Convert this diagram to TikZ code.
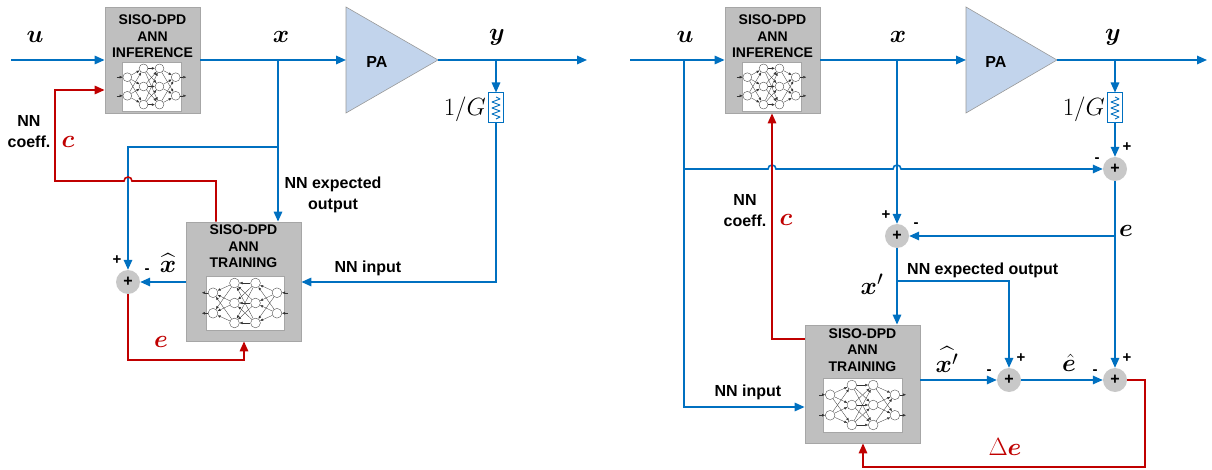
\documentclass[tikz,border=0pt]{standalone}
\usepackage{amsmath}
\usepackage{bm}
\usepackage{fontspec}
\setmainfont{Liberation Sans}
\usetikzlibrary{arrows.meta}

\definecolor{dblue}{HTML}{0070C0}
\definecolor{dred}{HTML}{C00000}
\definecolor{boxgray}{HTML}{BFBFBF}
\definecolor{boxedge}{HTML}{A6A6A6}
\definecolor{pafill}{HTML}{C2D4EC}
\definecolor{sumgray}{HTML}{C8C8C8}

\tikzset{
  tip/.style={-{Triangle[length=10pt,width=8.5pt]}},
  wire/.style={draw=dblue, line width=1.6pt},
  fb/.style={draw=dred, line width=1.6pt},
  block/.style={draw=boxedge, fill=boxgray, line width=0.8pt, inner sep=0pt},
  boxtext/.style={font=\fontsize{14}{16.5}\selectfont\bfseries, align=center, inner sep=0pt},
  lbl/.style={font=\fontsize{16}{21}\selectfont\bfseries, align=center, inner sep=0pt},
  sgn/.style={font=\fontsize{15}{18}\selectfont\bfseries, inner sep=0pt},
  mlbl/.style={font=\fontsize{24.88}{28}\selectfont, inner sep=0pt},
  sumnode/.style={circle, fill=sumgray, minimum size=24pt, inner sep=0pt,
    font=\fontsize{16}{18}\selectfont\bfseries},
  pashape/.style={draw=gray!80, fill=pafill, line width=0.6pt},
  resbox/.style={draw=dblue, fill=white, line width=1pt, minimum width=15pt,
    minimum height=30pt, inner sep=0pt},
  neuron/.style={circle, draw=black!75, fill=white, inner sep=0pt,
    minimum size=#1, line width=0.35pt},
  nnframe/.style={draw=black!35, fill=white, line width=0.5pt},
  fwd/.style={draw=black!80, line width=0.3pt, -{Latex[length=3pt,width=2.6pt]}},
  bwd/.style={draw=black!80, line width=0.3pt, {Latex[length=3pt,width=2.6pt]}-},
}

% small 2-3-3-2 network sketch: x0, y0 (top left), width, height, edge style
\newcommand{\nnpic}[5]{%
  \begin{scope}[shift={(#1,#2)}]
    \draw[nnframe] (0,0) rectangle (#3,#4);
    \foreach \i/\fy in {1/0.31,2/0.69}{
      \node[neuron={0.18*#4 pt}] (nA\i) at ({0.09*#3},{\fy*#4}) {};
      \node[neuron={0.18*#4 pt}] (nD\i) at ({0.91*#3},{\fy*#4}) {};
    }
    \foreach \i/\fy in {1/0.13,2/0.5,3/0.87}{
      \node[neuron={0.18*#4 pt}] (nB\i) at ({0.365*#3},{\fy*#4}) {};
      \node[neuron={0.18*#4 pt}] (nC\i) at ({0.635*#3},{\fy*#4}) {};
    }
    \foreach \a in {1,2}{
      \draw[#5] ([xshift=-6pt]nA\a.west) -- (nA\a);
      \draw[#5] (nD\a) -- ([xshift=6pt]nD\a.east);
      \foreach \b in {1,2,3}{
        \draw[#5] (nA\a) -- (nB\b);
        \draw[#5] (nC\b) -- (nD\a);
      }
    }
    \foreach \a in {1,2,3}{
      \foreach \b in {1,2,3}{
        \draw[#5] (nB\a) -- (nC\b);
      }
    }
  \end{scope}}

% zigzag symbol inside the 1/G attenuator box
\newcommand{\zigzag}[1]{%
  \draw[dblue, line width=0.9pt, line join=round] (#1) ++(0,-11) -- ++(4,2) -- ++(-8,3)
    -- ++(8,3) -- ++(-8,3) -- ++(8,3) -- ++(-8,3) -- ++(8,3) -- ++(-4,2);}

\begin{document}
\begin{tikzpicture}[x=1pt,y=-1pt]
\useasboundingbox (0,0) rectangle (1212,470);

%% ================= left: direct learning =================
\node[block, minimum width=95pt, minimum height=106pt] (inf1) at (152.5,60) {};
\node[boxtext] (inf1t) at (152.5,36.5) {SISO-DPD\\ANN\\INFERENCE};
\nnpic{122}{62}{59}{49}{fwd}

\node[block, minimum width=115pt, minimum height=119pt] (tr1) at (243.5,281.5) {};
\node[boxtext] (tr1t) at (243.5,246.5) {SISO-DPD\\ANN\\TRAINING};
\nnpic{206}{276}{78}{54}{bwd}

\draw[pashape] (346,7) -- (438,60) -- (346,113) -- cycle;
\coordinate (pa1in) at (346,60);
\coordinate (pa1out) at (438,60);
\node[lbl] (pa1t) at (377,62) {PA};

\node[resbox] (res1) at (496,108) {};
\zigzag{res1.center}
\node[sumnode] (sum1) at (128,282) {+};

\coordinate (uin1) at (11,60);
\coordinate (j1) at (278,60);
\coordinate (b1) at (278,147);
\coordinate (jy1) at (496,60);
\coordinate (yout1) at (587,60);
\coordinate (nin1) at (496,282);
\coordinate (r1) at (216,181);
\coordinate (r2) at (55,90);
\coordinate (e1) at (128,360);
\coordinate (e2) at (244,360);

\draw[wire, tip] (uin1) -- (inf1.west);
\draw[wire, tip] (inf1.east) -- (pa1in);
\draw[wire, tip] (pa1out) -- (yout1);
\draw[wire, tip] (j1) -- (j1 |- tr1.north);
\draw[wire, tip] (b1) -- (b1 -| sum1) -- (sum1);
\draw[wire, tip] (jy1) -- (res1.north);
\draw[wire, tip] (res1.south) -- (nin1) -- (nin1 -| tr1.east);
\draw[wire, tip] (sum1 -| tr1.west) -- (sum1);
\draw[fb, tip] (r1 |- tr1.north) -- (r1) -- (132,181)
  arc[start angle=0, end angle=180, radius=4pt] -- (55,181) -- (r2) -- (r2 -| inf1.west);
\draw[fb, tip] (sum1) -- (e1) -- (e2) -- (e2 |- tr1.south);

\node[mlbl] (u1) at (35,37) {$\bm{u}$};
\node[mlbl] (x1) at (281,37) {$\bm{x}$};
\node[mlbl] (y1) at (497,37) {$\bm{y}$};
\node[mlbl, anchor=east] (g1) at (486,109) {$1/G$};
\node[lbl] (coef1) at (29,132) {NN\\coeff.};
\node[mlbl, text=dred] (c1) at (68,142) {$\bm{c}$};
\node[lbl] (exp1) at (333,195) {NN expected\\output};
\node[lbl] (nni1) at (368,268) {NN input};
\node[mlbl] (xh1) at (168,263) {$\widehat{\bm{x}}$};
\node[sgn] (m1) at (147,271) {-};
\node[sgn] (p1) at (117,260) {+};
\node[mlbl, text=dred] (el1) at (161,342) {$\bm{e}$};

%% ================= right: indirect learning =================
\node[block, minimum width=95pt, minimum height=106pt] (inf2) at (772.5,60) {};
\node[boxtext] (inf2t) at (772.5,36.5) {SISO-DPD\\ANN\\INFERENCE};
\nnpic{742}{62}{59}{49}{fwd}

\node[block, minimum width=115pt, minimum height=118pt] (tr2) at (862.5,384) {};
\node[boxtext] (tr2t) at (862.5,350) {SISO-DPD\\ANN\\TRAINING};
\nnpic{823}{378}{79}{54}{fwd}

\draw[pashape] (966,7) -- (1057,60) -- (966,113) -- cycle;
\coordinate (pa2in) at (966,60);
\coordinate (pa2out) at (1057,60);
\node[lbl] (pa2t) at (996,62) {PA};

\node[resbox] (res2) at (1115,108) {};
\zigzag{res2.center}

\node[sumnode] (sumA) at (1115,169) {+};
\node[sumnode] (sumB) at (897,236) {+};
\node[sumnode] (sumC) at (1009,380) {+};
\node[sumnode] (sumD) at (1115,380) {+};

\coordinate (uin2) at (630,60);
\coordinate (j2u) at (684,60);
\coordinate (h2) at (684,169);
\coordinate (n2) at (684,407);
\coordinate (j2x) at (897,60);
\coordinate (jy2) at (1115,60);
\coordinate (yout2) at (1207,60);
\coordinate (eb) at (1115,236);
\coordinate (xb) at (897,281);
\coordinate (xc) at (1009,281);
\coordinate (rc) at (772,339);
\coordinate (d1) at (1145,380);
\coordinate (d2) at (1145,467);
\coordinate (d3) at (863,467);

\draw[wire, tip] (uin2) -- (inf2.west);
\draw[wire, tip] (inf2.east) -- (pa2in);
\draw[wire, tip] (pa2out) -- (yout2);
\draw[wire, tip] (j2u) -- (n2) -- (n2 -| tr2.west);
\draw[wire, tip] (h2) -- (768,169) arc[start angle=180, end angle=0, radius=4pt]
  -- (893,169) arc[start angle=180, end angle=0, radius=4pt] -- (sumA);
\draw[wire, tip] (jy2) -- (res2.north);
\draw[wire, tip] (res2.south) -- (sumA);
\draw[wire, tip] (j2x) -- (sumB);
\draw[wire, tip] (sumA) -- (eb) -- (sumB);
\draw[wire, tip] (eb) -- (sumD);
\draw[wire, tip] (sumB) -- (sumB |- tr2.north);
\draw[wire, tip] (xb) -- (xc) -- (sumC);
\draw[wire, tip] (sumC -| tr2.east) -- (sumC);
\draw[wire, tip] (sumC) -- (sumD);
\draw[fb, tip] (sumD) -- (d1) -- (d2) -- (d3) -- (d3 |- tr2.south);
\draw[fb, tip] (rc -| tr2.west) -- (rc) -- (rc |- inf2.south);

\node[mlbl] (u2) at (685,37) {$\bm{u}$};
\node[mlbl] (x2) at (898,37) {$\bm{x}$};
\node[mlbl] (y2) at (1113,37) {$\bm{y}$};
\node[mlbl, anchor=east] (g2) at (1105,109) {$1/G$};
\node[sgn] (pA) at (1127,147) {+};
\node[sgn] (mA) at (1097,160) {-};
\node[mlbl] (eA) at (1126,231) {$\bm{e}$};
\node[sgn] (pB) at (886,215) {+};
\node[sgn] (mB) at (916,225) {-};
\node[mlbl] (xp2) at (872,284) {$\bm{x}'$};
\node[lbl, anchor=west] (exp2) at (907,270) {NN expected output};
\node[lbl] (coef2) at (745,211) {NN\\coeff.};
\node[mlbl, text=dred] (c2) at (786,220) {$\bm{c}$};
\node[lbl] (nni2) at (748,392) {NN input};
\node[mlbl] (xh2) at (947,360) {$\widehat{\bm{x}'}$};
\node[sgn] (mC) at (989,372) {-};
\node[sgn] (pC) at (1021,358) {+};
\node[mlbl] (eh2) at (1069,363) {$\hat{\bm{e}}$};
\node[sgn] (mD) at (1095,372) {-};
\node[sgn] (pD) at (1127,358) {+};
\node[mlbl, text=dred] (de2) at (1005,447) {$\Delta\bm{e}$};
\end{tikzpicture}
\end{document}
